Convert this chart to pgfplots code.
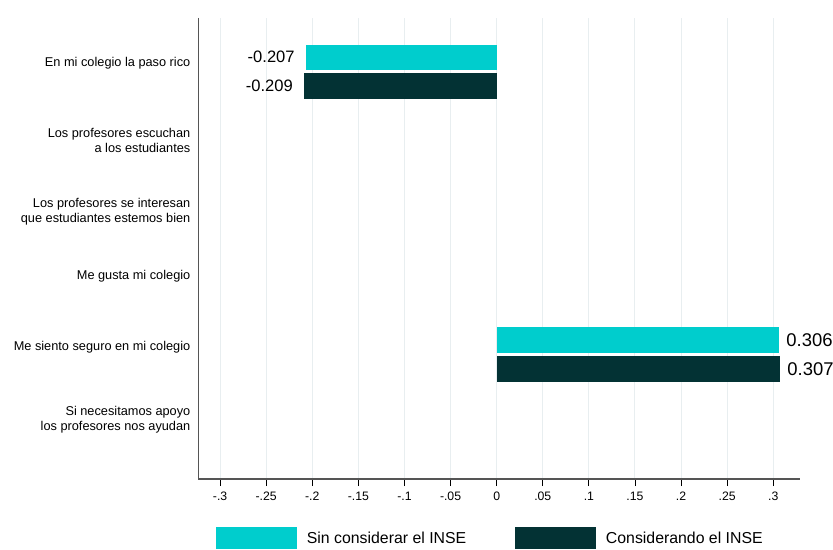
\documentclass[border=0pt]{standalone}
\usepackage{pgfplots}
\pgfplotsset{compat=1.18}
\usepackage{fontspec}
\setmainfont{Liberation Sans}
\definecolor{sinINSE}{HTML}{00CDCD}
\definecolor{conINSE}{HTML}{033234}
\definecolor{gridc}{HTML}{E8EEF0}
\definecolor{axisc}{HTML}{555555}
\begin{document}
\begin{tikzpicture}
\begin{axis}[
  at={(0,0)}, anchor=south west,
  scale only axis, width=601.5bp, height=461bp,
  xmin=-0.3234, xmax=0.329,
  ymin=0.239, ymax=6.764, y dir=reverse,
  axis x line*=bottom, axis y line*=left,
  axis line style={-, draw=axisc, line width=1.2bp},
  xtick={-0.3,-0.25,-0.2,-0.15,-0.1,-0.05,0,0.05,0.1,0.15,0.2,0.25,0.3},
  xticklabels={-.3,-.25,-.2,-.15,-.1,-.05,0,.05,.1,.15,.2,.25,.3},
  xmajorgrids, grid style={gridc, line width=1bp},
  xtick align=outside, major tick length=7bp,
  x tick style={black, line width=0.9bp},
  y tick style={draw=none},
  xticklabel style={font=\fontsize{12.3}{14}\selectfont, inner sep=0pt, yshift=-6bp},
  ytick={0.876,1.966,2.986,3.891,4.896,5.929},
  yticklabels={{En mi colegio la paso rico},
    {Los profesores escuchan\\a los estudiantes},
    {Los profesores se interesan\\que estudiantes estemos bien},
    {Me gusta mi colegio},
    {Me siento seguro en mi colegio},
    {Si necesitamos apoyo\\los profesores nos ayudan}},
  yticklabel style={font=\fontsize{12.8}{15}\selectfont, align=right, inner sep=0pt, xshift=-8bp},
  legend columns=2, legend cell align=left,
  legend style={draw=none, fill=none, inner sep=0pt,
    at={(axis description cs:0.0291,-0.128)}, anchor=west,
    font=\fontsize{15.9}{18}\selectfont, nodes={inner sep=0pt},
    /tikz/every odd column/.append style={column sep=10bp},
    /tikz/every even column/.append style={column sep=49bp}},
  legend image code/.code={\fill[#1, draw=none] (0bp,-10.85bp) rectangle (80.7bp,10.85bp);},
]
% Sin considerar el INSE
\addplot[xbar, bar width=0.361, bar shift=0pt, fill=sinINSE, draw=none,
  point meta=x, nodes near coords={\pgfmathprintnumber[fixed,fixed zerofill,precision=3,assume math mode=true]{\pgfplotspointmeta}},
  every node near coord/.style={anchor=east, xshift=-11bp, inner sep=0pt, text=black, font=\fontsize{16.6}{18}\selectfont}]
  coordinates {(-0.207,0.795)};
\addlegendentry{Sin considerar el INSE}
\addplot[forget plot, xbar, bar width=0.361, bar shift=0pt, fill=sinINSE, draw=none,
  point meta=x, nodes near coords={\pgfmathprintnumber[fixed,fixed zerofill,precision=3,assume math mode=true]{\pgfplotspointmeta}},
  every node near coord/.style={anchor=west, xshift=7.5bp, inner sep=0pt, text=black, font=\fontsize{18.5}{20}\selectfont}]
  coordinates {(0.306,4.795)};
% Considerando el INSE
\addplot[xbar, bar width=0.361, bar shift=0pt, fill=conINSE, draw=none,
  point meta=x, nodes near coords={\pgfmathprintnumber[fixed,fixed zerofill,precision=3,assume math mode=true]{\pgfplotspointmeta}},
  every node near coord/.style={anchor=east, xshift=-11bp, inner sep=0pt, text=black, font=\fontsize{16.6}{18}\selectfont}]
  coordinates {(-0.209,1.205)};
\addlegendentry{Considerando el INSE}
\addplot[forget plot, xbar, bar width=0.361, bar shift=0pt, fill=conINSE, draw=none,
  point meta=x, nodes near coords={\pgfmathprintnumber[fixed,fixed zerofill,precision=3,assume math mode=true]{\pgfplotspointmeta}},
  every node near coord/.style={anchor=west, xshift=7.5bp, inner sep=0pt, text=black, font=\fontsize{18.5}{20}\selectfont}]
  coordinates {(0.307,5.205)};
\end{axis}
\pgfresetboundingbox
\useasboundingbox (-198.5bp,-71bp) rectangle (634.5bp,479bp);
\end{tikzpicture}
\end{document}
